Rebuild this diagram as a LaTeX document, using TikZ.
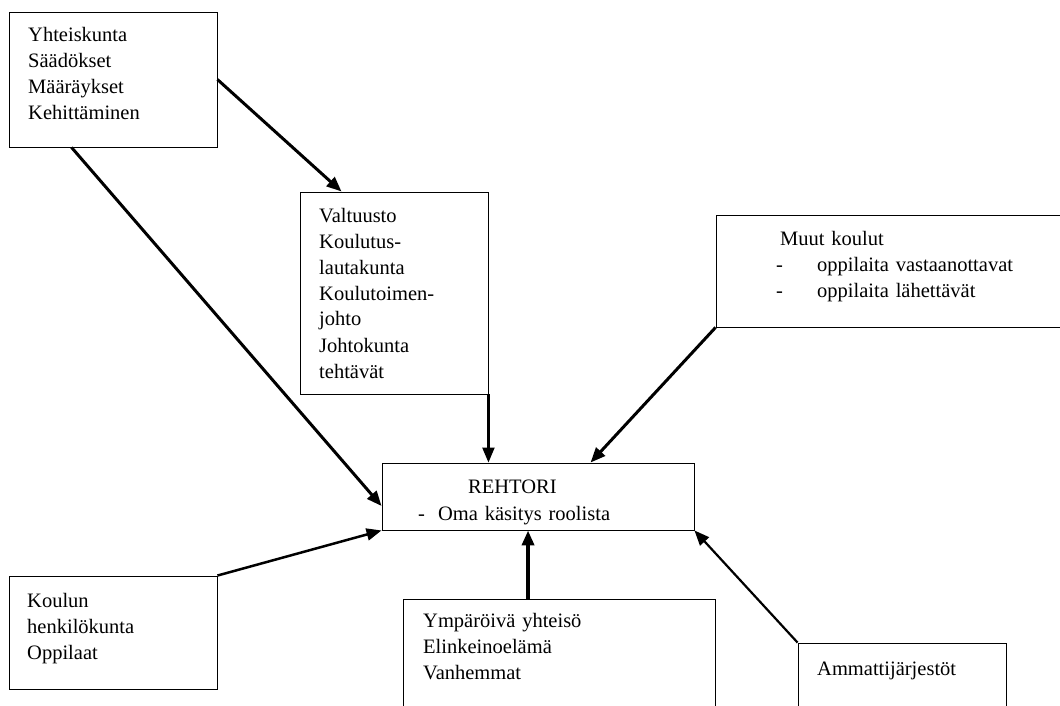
\documentclass[tikz,border=0pt]{standalone}
\usepackage{fontspec}
\setmainfont{Liberation Serif}
\usetikzlibrary{arrows.meta}
\begin{document}
\begin{tikzpicture}[x=1pt,y=-1pt,
  box/.style={draw, line width=0.9pt, inner sep=0pt},
  txt/.style={anchor=base west, inner sep=0pt, text width=330pt, align=left,
              font=\fontsize{20.5}{26}\selectfont},
  arr/.style={line width=#1, -{Triangle[length=15pt,width=12pt]}},
  arr/.default=2.8pt]
\useasboundingbox (0,0) rectangle (1060,706);
\fill[white] (0,0) rectangle (1060,706);

% boxes
\node[box, minimum width=208pt, minimum height=135pt] (yht) at (113,79.5) {};
\node[box, minimum width=188pt, minimum height=202pt] (val) at (394,293) {};
\node[box, minimum width=349pt, minimum height=112pt] (mk)  at (890.5,271) {};
\node[box, minimum width=312pt, minimum height=67pt]  (reh) at (538,496.5) {};
\node[box, minimum width=208pt, minimum height=113pt] (kh)  at (113,632.5) {};
\node[box, minimum width=312pt, minimum height=121pt] (ymp) at (559,659.5) {};
\node[box, minimum width=208pt, minimum height=77pt]  (am)  at (902,681.5) {};

% texts
\node[txt] (yhtT) at (28,42) {Yhteiskunta\\Säädökset\\Määräykset\\Kehittäminen};
\node[txt] (valT) at (319,222) {Valtuusto\\Koulutus-\\lautakunta\\Koulutoimen-\\johto\\Johtokunta\\tehtävät};
\node[txt] (mkT) at (776,245) {\hspace*{4pt}Muut koulut\\
  \makebox[41pt][l]{-}oppilaita vastaanottavat\\
  \makebox[41pt][l]{-}oppilaita lähettävät};
\node[txt] (rehT) at (418,493) {\hspace*{50pt}REHTORI\\[1pt]
  \makebox[20pt][l]{-}Oma käsitys roolista};
\node[txt] (khT) at (27,607) {Koulun\\henkilökunta\\Oppilaat};
\node[txt] (ympT) at (423,627) {Ympäröivä yhteisö\\Elinkeinoelämä\\Vanhemmat};
\node[txt] (amT) at (817,675) {Ammattijärjestöt};

% connector end points
\coordinate (valIn) at ([xshift=42pt]val.north west);
\coordinate (yhtOut) at ([xshift=63pt]yht.south west);
\coordinate (rehL) at ([yshift=-9.5pt]reh.west);
\coordinate (rehTop) at ([xshift=209pt]reh.north west);
\coordinate (ympOut) at ([xshift=125.5pt]ymp.north west);

% connectors
\draw[arr=3pt] (yht.east) -- (valIn);
\draw[arr=3pt] (yhtOut) -- (rehL);
\draw[arr=2.2pt] (val.south east) -- (reh.north -| val.south east);
\draw[arr=3pt] (mk.south west) -- (rehTop);
\draw[arr=2.5pt] (kh.north east) -- (reh.south west);
\draw[arr=4pt] (ympOut) -- (reh.south -| ympOut);
\draw[arr=2.2pt] (am.north west) -- (reh.south east);
\end{tikzpicture}
\end{document}
